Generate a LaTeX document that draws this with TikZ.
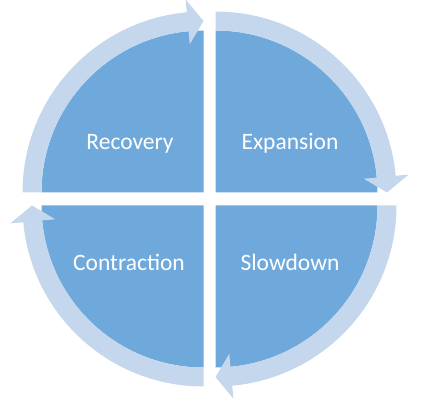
\documentclass[tikz,border=0pt]{standalone}
\usepackage{fontspec}
\setmainfont{Carlito}
\definecolor{quadblue}{RGB}{111,169,220}
\definecolor{bandblue}{RGB}{196,215,237}
\tikzset{
  quad/.style={fill=quadblue, draw=none},
  band/.style={fill=bandblue, draw=none},
  lbl/.style={text=white, font=\fontsize{23.5}{28}\selectfont, anchor=base},
}
\newcommand{\Rout}{181}
\newcommand{\Rin}{162}
\newcommand{\Rmid}{171.5}
\newcommand{\Rhi}{194}
\newcommand{\Rlo}{149}
% #1 corner, #2 start angle, #3 end angle, #4 head-back angle
\newcommand{\quadrant}[4]{%
  \begin{scope}[shift={(#1)}]
    \fill[quad] (0,0) -- (#2:\Rin) arc[start angle=#2, end angle=#3, radius=\Rin] -- cycle;
    \fill[band] (#2:\Rout) arc[start angle=#2, end angle=#4, radius=\Rout]
      -- (#4:\Rhi) -- (#3:\Rmid) -- (#4:\Rlo) -- (#4:\Rin)
      arc[start angle=#4, end angle=#2, radius=\Rin] -- cycle;
  \end{scope}}
\begin{document}
\begin{tikzpicture}[x=1pt,y=1pt]
\useasboundingbox (0,0) rectangle (421,405);
\coordinate (tr) at (215.5,212.5);
\coordinate (br) at (215.5,199.5);
\coordinate (bl) at (203.5,199.5);
\coordinate (tl) at (203.5,212.5);
\quadrant{tr}{90}{0}{5.3}
\quadrant{br}{0}{-90}{-84.7}
\quadrant{bl}{-90}{-180}{-174.7}
\quadrant{tl}{180}{90}{95.3}
\node[lbl] (recovery) at (130,255.5) {Recovery};
\node[lbl] (expansion) at (290,255.5) {Expansion};
\node[lbl] (contraction) at (129,134.5) {Contraction};
\node[lbl] (slowdown) at (290,134.5) {Slowdown};
\end{tikzpicture}
\end{document}
